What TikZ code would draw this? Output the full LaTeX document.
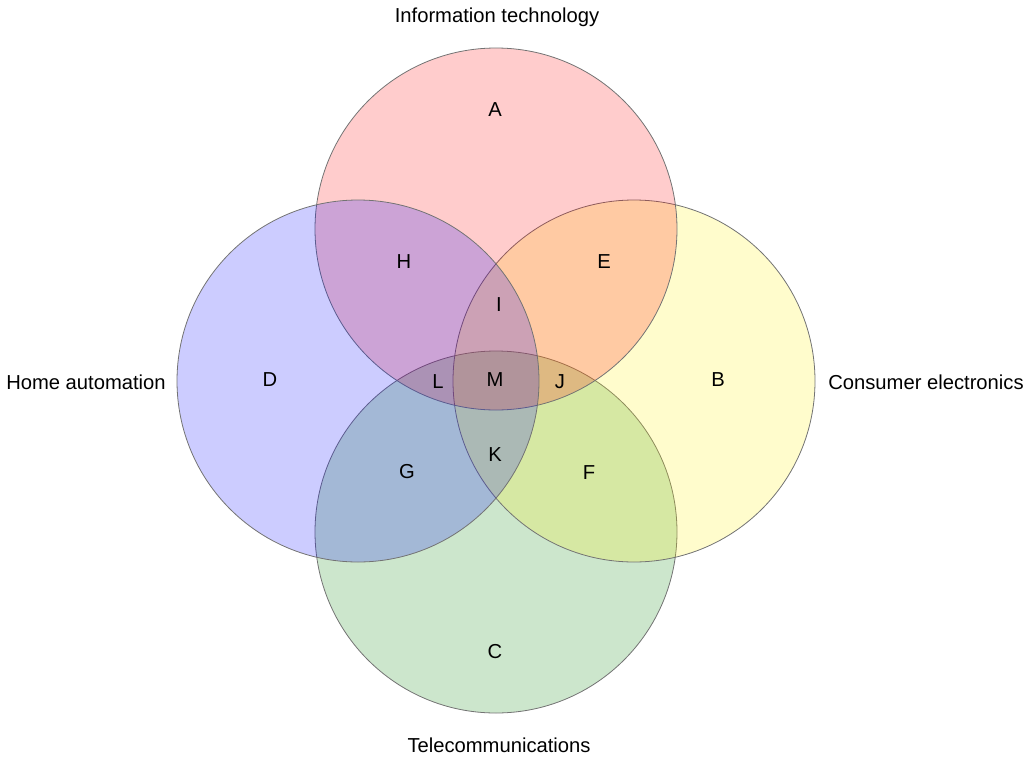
\documentclass[tikz,border=0pt]{standalone}
\usepackage{fontspec}
\setmainfont{Liberation Sans}
\begin{document}
\begin{tikzpicture}[x=1pt,y=-1pt,font=\fontsize{20.2}{24}\selectfont]
      \useasboundingbox (0,0) rectangle (1036,758);
      \tikzset{set/.style={draw=black!55,line width=0.8pt,fill opacity=0.2}}
      \filldraw[set,fill=green!50!black] (496,532) circle (181);
      \filldraw[set,fill=yellow] (634,381) circle (181);
      \filldraw[set,fill=red] (496,229) circle (181);
      \filldraw[set,fill=blue] (358,381) circle (181);
      \node (itech) at (497,17) {Information technology};
      \node (home) at (86,382) {Home automation};
      \node (cons) at (926,382) {Consumer electronics};
      \node (tele) at (499,745) {Telecommunications};
      \node (A) at (495,110) {A};
      \node (H) at (404,262) {H};
      \node (E) at (604,262) {E};
      \node (I) at (499,305) {I};
      \node (D) at (270,380) {D};
      \node (L) at (438,382) {L};
      \node (M) at (495,380) {M};
      \node (J) at (560,382) {J};
      \node (B) at (718,380) {B};
      \node (G) at (407,472) {G};
      \node (K) at (495,455) {K};
      \node (F) at (589,473) {F};
      \node (C) at (495,652) {C};
    \end{tikzpicture}
\end{document}
